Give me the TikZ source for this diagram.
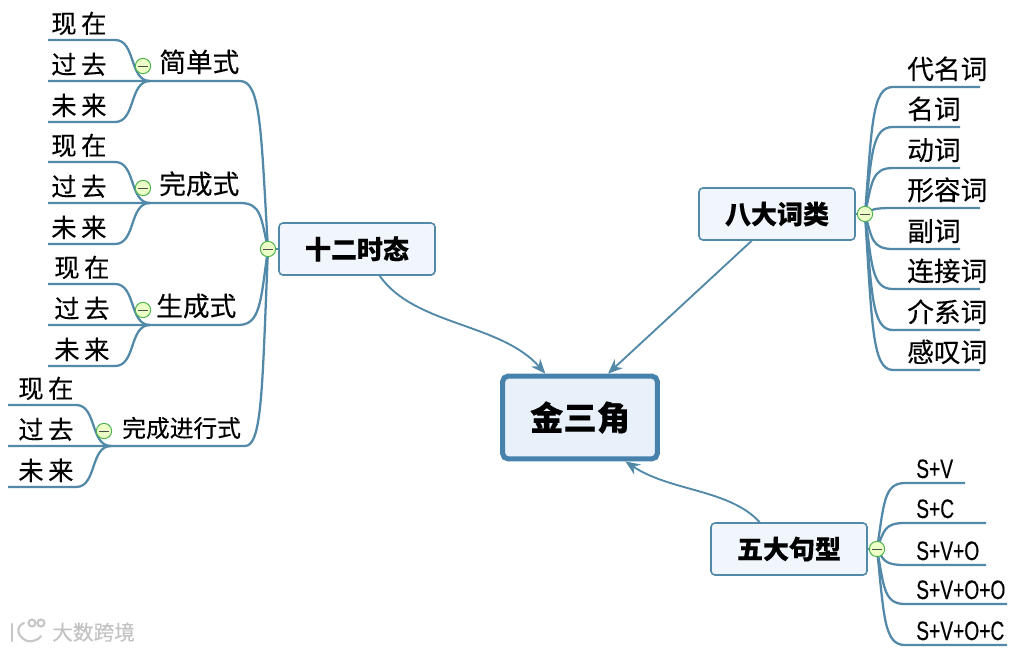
\documentclass[tikz,border=0pt]{standalone}
\usepackage{fontspec}
\setmainfont[FakeBold=0.25]{Noto Sans CJK SC}
\newfontfamily\widefont[LetterSpace=18,FakeBold=0.25]{Noto Sans CJK SC}
\newfontfamily\latinfont[FakeStretch=0.72,FakeBold=0.25]{Liberation Sans}
\usetikzlibrary{arrows.meta,calc}
\definecolor{branchblue}{HTML}{5289A8}
\definecolor{goldblue}{HTML}{4682AC}
\definecolor{topicfill}{HTML}{F1F6FC}
\definecolor{goldfill}{HTML}{E8F0FA}
\tikzset{
  branch/.style={draw=branchblue, line width=1.7pt},
  link/.style={draw=branchblue, line width=1.4pt, -{Stealth[length=11pt,width=9pt]}},
  topic/.style={draw=branchblue, line width=1.2pt, fill=topicfill, rounded corners=3pt,
    minimum width=117pt, minimum height=39pt, inner sep=0pt,
    font=\fontsize{19.5pt}{20pt}\bfseries},
  gold/.style={draw=goldblue, line width=3.8pt, fill=goldfill, rounded corners=4pt,
    minimum width=116pt, minimum height=62pt, inner sep=0pt,
    font=\fontsize{25pt}{26pt}\bfseries},
  leaf/.style={anchor=base west, inner sep=0pt, font=\fontsize{20pt}{22pt}\selectfont},
  tenseleaf/.style={leaf, font=\fontsize{19pt}{20pt}\widefont},
  sentleaf/.style={leaf, font=\fontsize{20pt}{22pt}\latinfont},
  fold/.style={circle, draw=green!40!gray, line width=0.7pt, fill=green!35!yellow!22,
    minimum size=11.5pt, inner sep=0pt},
  foldbar/.style={draw=black!70, line width=0.6pt},
  twig/.style={to path={let \p1=(\tikztostart), \p2=(\tikztotarget) in
    .. controls ({\x1+0.25*(\x2-\x1)},{\y1+0.7*(\y2-\y1)})
    and ({\x1+0.25*(\x2-\x1)},\y2) .. (\tikztotarget)}},
  wmark/.style={black!22, line width=1.6pt, line cap=round}
}
\newcommand{\foldat}[2]{
  \node[fold] (#1) at (#2) {};
  \draw[foldbar] ([xshift=-3.5pt]#1.center) -- ([xshift=3.5pt]#1.center);
}
\begin{document}
\begin{tikzpicture}[x=0.75pt, y=-0.75pt]
  \useasboundingbox (0,0) rectangle (1036,651);

  \node[gold] (triangle) at (580,417.5) {金三角};
  \node[topic] (tense) at (357,249) {十二时态};
  \node[topic] (words) at (777,214) {八大词类};
  \node[topic] (sentence) at (789,549) {五大句型};

  \draw[link] ([xshift=17pt]tense.south) .. controls +(35,50) and +(-45,-51) .. ([xshift=-26pt]triangle.north);
  \draw[link] ([xshift=-19pt]words.south) -- ([xshift=21pt]triangle.north);
  \draw[link] ([xshift=-22pt]sentence.north) .. controls +(-30,-33) and +(45,30) .. ([xshift=34pt]triangle.south);

  % tenses
  \coordinate (tensehub) at (268,249);
  \draw[branch] (tense.west) -- (tensehub);
  \foreach \gp/\px/\py/\tx/\gx/\w/\lx/\fs/\l in {
    simple/150/81/51/159/240/48/20/简单式,
    perfect/150/203/51/159/240/48/20/完成式,
    make/150/325/54/156/238/48/20/生成式,
    progress/111/446/18/122/245/8/17.8/完成进行式} {
    \node[leaf, font=\fontsize{\fs pt}{22pt}\selectfont] (\gp) at (\gx,\py-9) {\l};
    \coordinate (\gp-e) at (\w,\py);
    \coordinate (\gp-c) at (\px,\py);
    \coordinate (\gp-s) at (\lx,\py);
    \draw[branch] (tensehub) to[twig] (\gp-e) -- (\gp-s);
    \foreach \m/\d/\t in {now/-41/现在, past/0/过去, next/41/未来} {
      \node[tenseleaf] (\gp-\m) at (\tx,\py+\d-7) {\t};
      \coordinate (\gp-\m-c) at (\px-35,\py+\d);
      \coordinate (\gp-\m-s) at (\lx,\py+\d);
      \draw[branch] (\gp-c) to[out=180, in=0] (\gp-\m-c) -- (\gp-\m-s);
    }
    \foldat{\gp-fold}{\px-7,\py-15}
  }
  \foldat{tensefold}{tensehub}

  % word classes
  \coordinate (wordhub) at (865,214);
  \draw[branch] (words.east) -- (wordhub);
  \foreach \wname/\py/\e/\l in {
    pron/87/980/代名词, noun/127/960/名词, verb/168/960/动词, adj/208/980/形容词,
    adv/249/960/副词, conj/289/980/连接词, prep/330/980/介系词, interj/370/980/感叹词} {
    \node[leaf] (\wname) at (907,\py-8) {\l};
    \coordinate (\wname-s) at (893,\py);
    \coordinate (\wname-e) at (\e,\py);
    \draw[branch] (wordhub) to[twig] (\wname-s) -- (\wname-e);
  }
  \foldat{wordfold}{wordhub}

  % sentence patterns
  \coordinate (senthub) at (877,549);
  \draw[branch] (sentence.east) -- (senthub);
  \foreach \sname/\py/\e/\l in {
    sv/483/965/S+V, sc/523/986/S+C, svo/565/986/S+V+O,
    svoo/604/1007/S+V+O+O, svoc/645/1007/S+V+O+C} {
    \node[sentleaf] (\sname) at (916,\py-5) {\l};
    \coordinate (\sname-s) at (905,\py);
    \coordinate (\sname-e) at (\e,\py);
    \draw[branch] (senthub) to[twig] (\sname-s) -- (\sname-e);
  }
  \foldat{sentfold}{senthub}

  % watermark
  \node[anchor=base west, inner sep=0pt, text=black!24, font=\fontsize{15.5pt}{16pt}\selectfont] (brand) at (52,640) {大数跨境};
  \draw[wmark] (12,624) -- (12,641);
  \draw[wmark] (24,623) .. controls (16,626) and (16,636) .. (27,641) .. controls (33,642) and (38,640) .. (41,636);
  \draw[wmark] (32,623) circle (3.5);
  \draw[wmark] (41,623) circle (3.5);
\end{tikzpicture}
\end{document}
